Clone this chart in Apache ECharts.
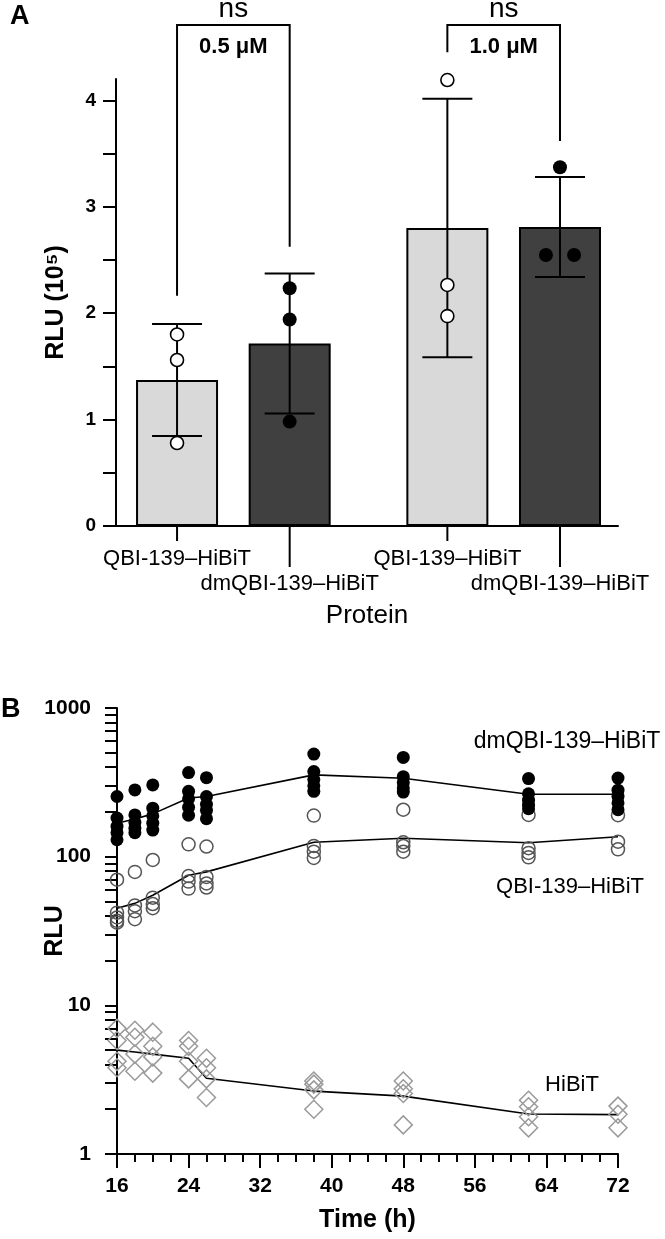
<!DOCTYPE html>
<html>
<head>
<meta charset="utf-8">
<style>
html, body { margin: 0; padding: 0; background: #fff; }
#chart { width: 665px; height: 1239px; }
</style>
<script src="https://cdn.jsdelivr.net/npm/echarts@6.0.0/dist/echarts.min.js"></script>
</head>
<body>
<div id="chart"></div>
<script>
// ---- panel A data ----
var barNames = ['QBI-139–HiBiT', 'dmQBI-139–HiBiT', 'QBI-139–HiBiT', 'dmQBI-139–HiBiT'];
var barPos = [1, 2, 3.4, 4.4];
var barMeans = [1.372, 1.715, 2.80, 2.81];
var barSD = [0.526, 0.657, 1.215, 0.47];
var openPoints = [[1, 1.80], [1, 1.56], [1, 0.78], [3.4, 4.19], [3.4, 2.265], [3.4, 1.972]];
var filledPoints = [[2, 2.234], [2, 1.94], [2, 0.981], [4.4, 3.371], [4.275, 2.546], [4.525, 2.546]];
var bracketPairs = [[1, 2], [3.4, 4.4]];
var bracketLegEnds = [[2.164, 2.624], [4.451, 3.617]];
var bracketTop = 4.707;
var bracketDoses = ['0.5 μM', '1.0 μM'];
var bracketSig = ['ns', 'ns'];
var aLabels = [0, 1, 2, 3, 4];
var aTicks = [0, 0.5, 1, 1.5, 2, 2.5, 3, 3.5, 4];

// ---- panel B data ----
var times = [16, 18, 20, 24, 26, 38, 48, 62, 72];
var dmPoints = [
    [254, 182, 160, 145, 130],
    [281, 191, 170, 155, 145],
    [304, 212, 188, 168, 151],
    [368, 275, 245, 215, 190],
    [340, 254, 225, 205, 180],
    [490, 374, 330, 300, 275],
    [465, 345, 315, 290, 272],
    [335, 265, 240, 222, 210],
    [338, 280, 255, 230, 207]
];
var qbiPoints = [
    [70, 42, 39, 37, 36],
    [79, 47, 43, 38],
    [95, 53, 48, 45],
    [121, 74, 68, 61],
    [117, 73, 66, 62],
    [189, 118, 108, 98],
    [207, 125, 118, 108],
    [191, 114, 106, 99],
    [190, 126, 112]
];
var hibitPoints = [
    [7.0, 5.8, 4.2, 3.8],
    [6.8, 6.1, 4.7, 3.6],
    [6.6, 5.3, 4.5, 3.5],
    [5.8, 5.3, 4.2, 3.2],
    [4.4, 3.8, 3.2, 2.4],
    [3.1, 2.95, 2.7, 2.0],
    [3.1, 2.75, 2.55, 1.57],
    [2.3, 2.08, 1.78, 1.5],
    [2.1, 1.85, 1.5]
];
var dmMean = [168, 179, 194, 248, 254, 355, 337, 263, 263];
var qbiMean = [45, 48.5, 55, 75, 79, 125, 133, 124, 136];
var hibitMean = [5.0, 4.85, 4.7, 4.41, 3.23, 2.65, 2.45, 1.86, 1.84];
var bTicks = [1, 2, 3, 4, 5, 6, 7, 8, 9, 10, 20, 30, 40, 50, 60, 70, 80, 90,
    100, 200, 300, 400, 500, 600, 700, 800, 900, 1000];

var FONT = '"Liberation Sans", Arial, sans-serif';
var aXMin = 0.458, aXMax = 4.915;

function flatten(xs, groups) {
    var out = [];
    xs.forEach(function (x, i) {
        groups[i].forEach(function (v) { out.push([x, v]); });
    });
    return out;
}

var chart = echarts.init(document.getElementById('chart'));
var option = {
    animation: false,
    textStyle: { fontFamily: FONT, color: '#000' },
    grid: [
        { left: 116, top: 79, right: 47, bottom: 713 },
        { left: 117, top: 708, right: 47, bottom: 85 }
    ],
    xAxis: [
        {
            gridIndex: 0, type: 'value', min: aXMin, max: aXMax,
            axisLine: { lineStyle: { color: '#000', width: 2 } },
            axisTick: { show: false }, axisLabel: { show: false }, splitLine: { show: false },
            name: 'Protein', nameLocation: 'middle', nameGap: 77, nameMoveOverlap: false,
            nameTextStyle: { fontSize: 26, color: '#000', fontFamily: FONT }
        },
        {
            gridIndex: 1, type: 'value', min: 16, max: 72, interval: 8,
            axisLine: { lineStyle: { color: '#000', width: 2 } },
            axisTick: { length: 14, lineStyle: { color: '#000', width: 2 } },
            minorTick: { show: true, splitNumber: 4, length: 8, lineStyle: { color: '#000', width: 2 } },
            axisLabel: { fontSize: 21, fontWeight: 'bold', color: '#000', margin: 22 },
            splitLine: { show: false },
            name: 'Time (h)', nameLocation: 'middle', nameGap: 54, nameMoveOverlap: false,
            nameTextStyle: { fontSize: 25, fontWeight: 'bold', color: '#000', fontFamily: FONT }
        }
    ],
    yAxis: [
        {
            gridIndex: 0, type: 'value', min: 0, max: 4.2, interval: 1,
            axisLine: { show: true, lineStyle: { color: '#000', width: 2 } },
            axisTick: { show: true, length: 13, customValues: aTicks, lineStyle: { color: '#000', width: 2 } },
            axisLabel: { customValues: aLabels, fontSize: 19, fontWeight: 'bold', color: '#000', margin: 20 },
            splitLine: { show: false },
            name: 'RLU (10⁵)', nameLocation: 'middle', nameGap: 47, nameRotate: 90, nameMoveOverlap: false,
            nameTextStyle: { fontSize: 25, fontWeight: 'bold', color: '#000', fontFamily: FONT }
        },
        {
            gridIndex: 1, type: 'log', logBase: 10, min: 1, max: 1000,
            axisLine: { show: true, lineStyle: { color: '#000', width: 2 } },
            axisTick: { show: true, length: 12, customValues: bTicks, lineStyle: { color: '#000', width: 2 } },
            axisLabel: {
                fontSize: 21, fontWeight: 'bold', color: '#000', margin: 26,
                formatter: function (v) { return String(Math.round(v)); }
            },
            splitLine: { show: false },
            name: 'RLU', nameLocation: 'middle', nameGap: 49, nameRotate: 90, nameMoveOverlap: false,
            nameTextStyle: { fontSize: 25, fontWeight: 'bold', color: '#000', fontFamily: FONT }
        }
    ],
    graphic: [
        { type: 'text', left: 10, top: 3, style: { text: 'A', font: 'bold 27px ' + FONT, fill: '#000' } },
        { type: 'text', left: 1, top: 696, style: { text: 'B', font: 'bold 27px ' + FONT, fill: '#000' } },
        { type: 'text', x: 567, y: 742, style: { text: 'dmQBI-139–HiBiT', font: '23px ' + FONT, fill: '#000', align: 'center', verticalAlign: 'middle' } },
        { type: 'text', x: 570, y: 887, style: { text: 'QBI-139–HiBiT', font: '22px ' + FONT, fill: '#000', align: 'center', verticalAlign: 'middle' } },
        { type: 'text', x: 572, y: 1085, style: { text: 'HiBiT', font: '22px ' + FONT, fill: '#000', align: 'center', verticalAlign: 'middle' } }
    ],
    series: [
        // ---- panel A ----
        {
            type: 'bar', xAxisIndex: 0, yAxisIndex: 0, barWidth: 82, z: 2,
            itemStyle: { borderColor: '#000', borderWidth: 2 },
            data: barPos.map(function (x, i) {
                return { value: [x, barMeans[i]], itemStyle: { color: i % 2 ? '#404040' : '#d9d9d9' } };
            })
        },
        {
            type: 'custom', xAxisIndex: 0, yAxisIndex: 0, z: 3, silent: true,
            data: barPos.map(function (x, i) { return [x, barMeans[i], barSD[i]]; }),
            renderItem: function (params, api) {
                var x = api.value(0), m = api.value(1), s = api.value(2);
                var top = api.coord([x, m + s]), bot = api.coord([x, m - s]);
                var st = { stroke: '#000', lineWidth: 2 };
                return {
                    type: 'group', children: [
                        { type: 'line', shape: { x1: top[0], y1: top[1], x2: bot[0], y2: bot[1] }, style: st },
                        { type: 'line', shape: { x1: top[0] - 25, y1: top[1], x2: top[0] + 25, y2: top[1] }, style: st },
                        { type: 'line', shape: { x1: bot[0] - 25, y1: bot[1], x2: bot[0] + 25, y2: bot[1] }, style: st }
                    ]
                };
            }
        },
        {
            type: 'scatter', xAxisIndex: 0, yAxisIndex: 0, z: 4, symbol: 'circle', symbolSize: 13,
            itemStyle: { color: '#fff', borderColor: '#000', borderWidth: 1.6, opacity: 1 },
            data: openPoints
        },
        {
            type: 'scatter', xAxisIndex: 0, yAxisIndex: 0, z: 4, symbol: 'circle', symbolSize: 14,
            itemStyle: { color: '#000', opacity: 1 },
            data: filledPoints
        },
        {
            // category ticks and labels
            type: 'custom', xAxisIndex: 0, yAxisIndex: 0, z: 3, silent: true,
            data: barPos.map(function (x) { return [x, 0]; }),
            renderItem: function (params, api) {
                var p = api.coord([api.value(0), 0]);
                var low = params.dataIndex % 2 === 1;
                return {
                    type: 'group', children: [
                        { type: 'line', shape: { x1: p[0], y1: p[1], x2: p[0], y2: p[1] + (low ? 41 : 15) }, style: { stroke: '#000', lineWidth: 2 } },
                        {
                            type: 'text', x: p[0], y: p[1] + (low ? 58 : 33),
                            style: { text: barNames[params.dataIndex], font: '22px ' + FONT, fill: '#000', align: 'center', verticalAlign: 'middle' }
                        }
                    ]
                };
            }
        },
        {
            // significance brackets
            type: 'custom', xAxisIndex: 0, yAxisIndex: 0, z: 3, silent: true, clip: false,
            data: bracketPairs.map(function (b, i) { return [b[0], b[1], bracketLegEnds[i][0], bracketLegEnds[i][1]]; }),
            renderItem: function (params, api) {
                var l = api.value(0), r = api.value(1);
                var tl = api.coord([l, bracketTop]), tr = api.coord([r, bracketTop]);
                var bl = api.coord([l, api.value(2)]), br = api.coord([r, api.value(3)]);
                var st = { stroke: '#000', lineWidth: 2, fill: null };
                var cx = (tl[0] + tr[0]) / 2;
                return {
                    type: 'group', children: [
                        { type: 'polyline', shape: { points: [bl, tl, tr, br] }, style: st },
                        { type: 'text', x: cx, y: tl[1] - 16, style: { text: bracketSig[params.dataIndex], font: '28px ' + FONT, fill: '#000', align: 'center', verticalAlign: 'middle' } },
                        { type: 'text', x: cx, y: tl[1] + 22, style: { text: bracketDoses[params.dataIndex], font: 'bold 22px ' + FONT, fill: '#000', align: 'center', verticalAlign: 'middle' } }
                    ]
                };
            }
        },
        // ---- panel B ----
        {
            type: 'line', xAxisIndex: 1, yAxisIndex: 1, z: 2, symbol: 'none',
            lineStyle: { color: '#000', width: 1.6 },
            data: times.map(function (t, i) { return [t, dmMean[i]]; })
        },
        {
            type: 'line', xAxisIndex: 1, yAxisIndex: 1, z: 2, symbol: 'none',
            lineStyle: { color: '#000', width: 1.6 },
            data: times.map(function (t, i) { return [t, qbiMean[i]]; })
        },
        {
            type: 'line', xAxisIndex: 1, yAxisIndex: 1, z: 2, symbol: 'none',
            lineStyle: { color: '#000', width: 1.6 },
            data: times.map(function (t, i) { return [t, hibitMean[i]]; })
        },
        {
            type: 'scatter', xAxisIndex: 1, yAxisIndex: 1, z: 3, symbol: 'circle', symbolSize: 13,
            itemStyle: { color: 'rgba(255,255,255,0)', borderColor: '#555', borderWidth: 1.5, opacity: 1 },
            data: flatten(times, qbiPoints)
        },
        {
            type: 'scatter', xAxisIndex: 1, yAxisIndex: 1, z: 4, symbol: 'circle', symbolSize: 13,
            itemStyle: { color: '#000', opacity: 1 },
            data: flatten(times, dmPoints)
        },
        {
            type: 'scatter', xAxisIndex: 1, yAxisIndex: 1, z: 3, symbol: 'diamond', symbolSize: 18,
            itemStyle: { color: 'rgba(255,255,255,0)', borderColor: '#9a9a9a', borderWidth: 1.5, opacity: 1 },
            data: flatten(times, hibitPoints)
        }
    ]
};
chart.setOption(option);
</script>
</body>
</html>
